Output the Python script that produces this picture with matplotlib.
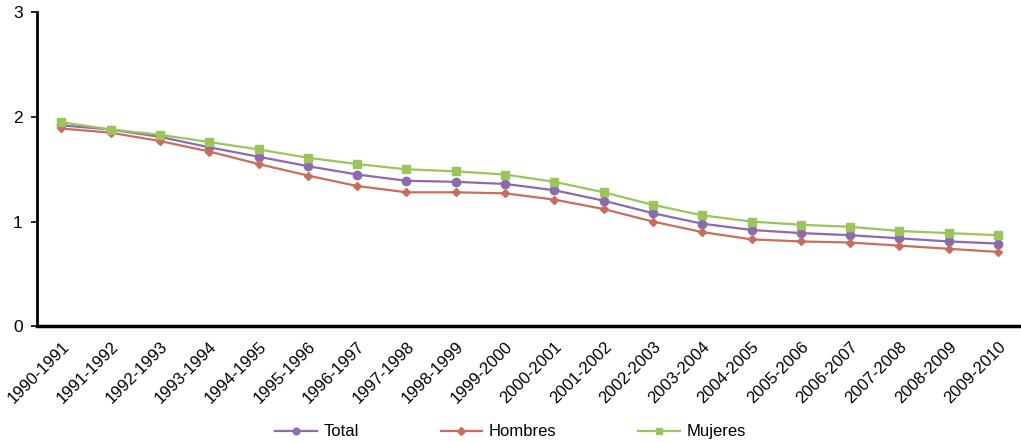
import matplotlib.pyplot as plt

# Periodos y valores de las tres series
periodos = ['1990-1991', '1991-1992', '1992-1993', '1993-1994', '1994-1995',
            '1995-1996', '1996-1997', '1997-1998', '1998-1999', '1999-2000',
            '2000-2001', '2001-2002', '2002-2003', '2003-2004', '2004-2005',
            '2005-2006', '2006-2007', '2007-2008', '2008-2009', '2009-2010']
total = [1.92, 1.88, 1.81, 1.71, 1.62, 1.53, 1.45, 1.39, 1.38, 1.36,
         1.30, 1.20, 1.08, 0.98, 0.92, 0.89, 0.87, 0.84, 0.81, 0.79]
hombres = [1.89, 1.85, 1.77, 1.67, 1.55, 1.44, 1.34, 1.28, 1.28, 1.27,
           1.21, 1.12, 1.00, 0.90, 0.83, 0.81, 0.80, 0.77, 0.74, 0.71]
mujeres = [1.95, 1.88, 1.83, 1.76, 1.69, 1.61, 1.55, 1.50, 1.48, 1.45,
           1.38, 1.28, 1.16, 1.06, 1.00, 0.97, 0.95, 0.91, 0.89, 0.87]

plt.rcParams['font.family'] = ['Liberation Sans', 'DejaVu Sans']

fig = plt.figure(figsize=(10.21, 4.42), dpi=100)
ax = fig.add_axes([0.036, 0.262, 0.968, 0.71])

x = range(len(periodos))
ax.plot(x, total, color='#8B6BAE', marker='o', markersize=6, lw=1.6, label='Total')
ax.plot(x, hombres, color='#C76E5E', marker='D', markersize=4.5, lw=1.6, label='Hombres')
ax.plot(x, mujeres, color='#9BC45A', marker='s', markersize=6, lw=1.6, label='Mujeres')

ax.set_xlim(-0.5, 19.55)
ax.set_ylim(0, 3)
ax.set_yticks([0, 1, 2, 3])
ax.set_xticks(list(x))
ax.set_xticklabels(periodos, rotation=45, ha='right', rotation_mode='anchor', fontsize=12)
ax.tick_params(axis='x', length=0, pad=9)
ax.tick_params(axis='y', length=4, width=1.2, labelsize=12.5, pad=6)

for s in ['top', 'right']:
    ax.spines[s].set_visible(False)
ax.spines['left'].set_linewidth(2)
ax.spines['bottom'].set_linewidth(2.5)

fig.legend(loc='center', bbox_to_anchor=(0.5, 0.023), ncol=3, frameon=False,
           fontsize=12, columnspacing=4.9, handlelength=2.5, handletextpad=0.4,
           markerscale=0.8)

fig.savefig('out.png', dpi=100)
